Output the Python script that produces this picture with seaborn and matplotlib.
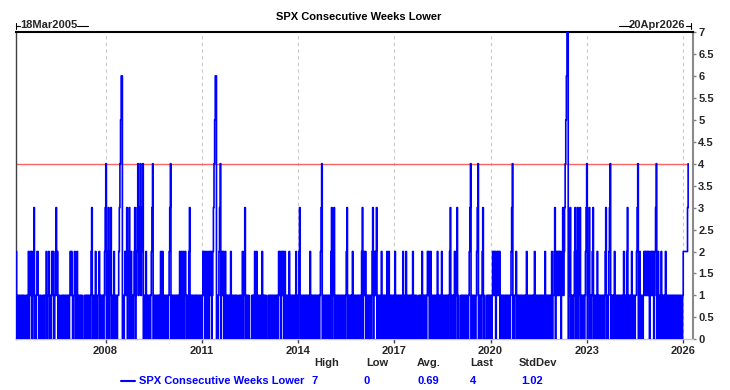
import matplotlib
matplotlib.use("Agg")
import matplotlib.pyplot as plt
import pandas as pd
import seaborn as sns
from matplotlib.lines import Line2D

# ---------------- data ----------------
series_name = "SPX Consecutive Weeks Lower"
start_date = "2005-03-18"
end_date = "2026-04-20"
years = list(range(2005, 2027))
# one digit per weekly (Friday) reading, grouped by calendar year
weekly_by_year = [
    "2010110101 0101001010 2012120123 0101221010 10",
    "0101011201 1201012120 0123120101 0010101101 0101012121 01",
    "1200120101 0101000101 0101010123 0101120101 1201010101 23",
    "4012301230 1012010101 1234566010 1212301230 1201012301 23",
    "4123412340 1012010101 0123401010 1010101201 2010101010 12",
    "3401010101 0101012012 0120121010 1230101010 1010101101 010",
    "1212012012 0121201234 5660101234 0121201201 0101012010 10",
    "1010100101 0112012301 0101000010 1012012010 1010120101 01",
    "0001010101 0101010101 2120121201 2010101201 0101010120 10",
    "1230101010 1010101012 0101010101 0101012340 1010101010 10",
    "1230123010 1010110101 0101012301 0101012010 1010101010 12",
    "3012120101 0101012301 2123010101 1201010101 2012010101 010",
    "2010101010 1012010120 1010101012 0101010001 0101201010 10",
    "1212012010 1010101201 0101201010 1010101230 1010120123 01",
    "0001010101 0101001234 0101010012 3401010123 0100010101 01",
    "1012121201 2121201010 1010101010 1012340101 1201010101 01",
    "0101012010 1010101012 0101010101 0101012010 1010101201 123",
    "0121212120 1231234567 7012301010 1230123012 3010101012 34",
    "0123010123 0101012010 1010101012 3010123401 0101201010 10",
    "1010101201 0123010101 2010101123 4012010101 2121212120 12",
    "1212012340 1201012010 1012010101 0101010101 0101101010 01",
    "222222234",
]
threshold = 4
tick_years = [2008, 2011, 2014, 2017, 2020, 2023, 2026]
y_ticks = [0, 0.5, 1, 1.5, 2, 2.5, 3, 3.5, 4, 4.5, 5, 5.5, 6, 6.5, 7]
stat_names = ["High", "Low", "Avg.", "Last", "StdDev"]
stat_values = ["7", "0", "0.69", "4", "1.02"]
start_label = "18Mar2005"
end_label = "20Apr2026"

# ---------------- build table ----------------
dates, vals = [], []
for yr, s in zip(years, weekly_by_year):
    digits = [int(c) for c in s if c.isdigit()]
    first = pd.Timestamp(start_date) if yr == years[0] else pd.Timestamp(f"{yr}-01-01")
    dates.extend(pd.date_range(first, periods=len(digits), freq="W-FRI"))
    vals.extend(digits)
df = pd.DataFrame({"date": dates, "value": vals})

# ---------------- figure ----------------
sns.set_style("white")
plt.rcParams["font.family"] = ["Liberation Sans", "DejaVu Sans"]

W, H = 730, 390
fig = plt.figure(figsize=(W / 100, H / 100), dpi=100)
L, R, T, B = 16, 692.7, 32, 339.3
ax = fig.add_axes([L / W, 1 - B / H, (R - L) / W, (B - T) / H])


def fx(x):
    return x / W


def fy(y):
    return 1 - y / H


sns.lineplot(data=df, x="date", y="value", drawstyle="steps-post",
             color="#0000ff", lw=1.2, ax=ax, estimator=None, zorder=3)
ax.hlines(threshold, df["date"].iloc[0], df["date"].iloc[-1],
          color="#ff6262", lw=1.0, zorder=2)

ax.set_xlim(pd.Timestamp(start_date), pd.Timestamp(end_date))
ax.set_ylim(0, 7)
ax.set_xlabel("")
ax.set_ylabel("")

ax.set_xticks([pd.Timestamp(f"{y}-01-01") for y in tick_years])
ax.set_xticklabels([str(y) for y in tick_years], fontsize=8, fontweight="bold")
ax.grid(axis="x", ls=(0, (3, 3)), color="#c8c8c8", lw=0.8)
ax.grid(axis="y", visible=False)

ax.yaxis.tick_right()
ax.set_yticks(y_ticks)
ax.set_yticklabels([f"{v:g}" for v in y_ticks], fontsize=8, fontweight="bold")
ax.tick_params(axis="y", direction="out", length=2.5, width=1, color="#808080", pad=1.5, right=True, left=False)
ax.tick_params(axis="x", direction="out", length=3, width=1, color="#404040", pad=1.5, bottom=True)

for side, col, lw in [("top", "#000000", 1.5), ("left", "#404040", 1.0),
                      ("right", "#8a8a8a", 1.5), ("bottom", "#c4c4e4", 1.0)]:
    ax.spines[side].set_visible(True)
    ax.spines[side].set_color(col)
    ax.spines[side].set_linewidth(lw)

# title
fig.text(fx(359), fy(17), series_name, ha="center", va="center",
         fontsize=8, fontweight="bold", color="#000000")

# date range labels with bracket decorations
fig.text(fx(20), fy(25), start_label, ha="left", va="center", fontsize=8, fontweight="bold")
fig.text(fx(685), fy(25), end_label, ha="right", va="center", fontsize=8, fontweight="bold")
deco = [((16, 19.5), (25.5, 25.5)), ((16, 16), (22.5, 28.5)), ((76.5, 87.5), (25.5, 25.5)),
        ((619, 631), (25.5, 25.5)), ((686, 691), (25.5, 25.5)), ((691, 691), (22.5, 28.5))]
for xs, ys in deco:
    fig.add_artist(Line2D([fx(xs[0]), fx(xs[1])], [fy(ys[0]), fy(ys[1])],
                          color="#000000", lw=0.8, transform=fig.transFigure))

# statistics legend
head_x = [314, 366, 417, 470, 519]
val_x = [312, 364, 417, 470, 521]
for name, hx in zip(stat_names, head_x):
    fig.text(fx(hx), fy(363), name, ha="left", va="center", fontsize=8, fontweight="bold")
for v, vx in zip(stat_values, val_x):
    fig.text(fx(vx), fy(381), v, ha="left", va="center", fontsize=8,
             fontweight="bold", color="#0000ff")
fig.add_artist(Line2D([fx(121), fx(135)], [fy(381), fy(381)], color="#0000ff",
                      lw=1.5, transform=fig.transFigure))
fig.text(fx(139), fy(381), series_name, ha="left", va="center", fontsize=8,
         fontweight="bold", color="#0000ff")

fig.savefig("out.png", dpi=100)
